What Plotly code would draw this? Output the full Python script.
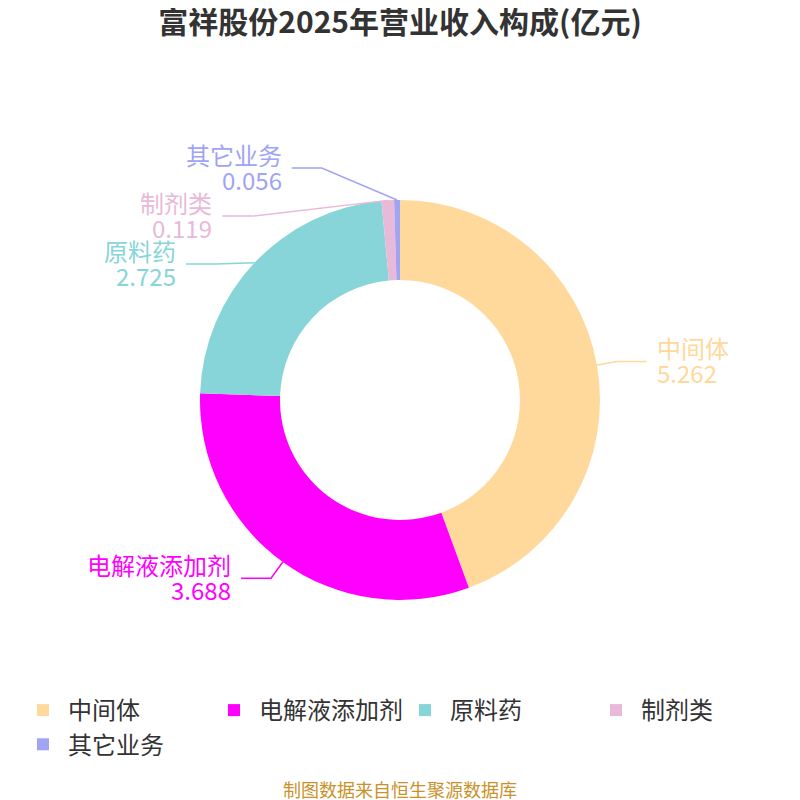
import math
import plotly.graph_objects as go

# 营业收入构成 (亿元)
labels = ["中间体", "电解液添加剂", "原料药", "制剂类", "其它业务"]
values = [5.262, 3.688, 2.725, 0.119, 0.056]
colors = ["#FFD99B", "#FF00FF", "#87D5D8", "#E8B9D8", "#A1A4F5"]

W = H = 800
OFF = 8                     # page margin of the html body
CX, CY, R = 400, 400, 200   # pie centre / radius in page px
L1, L2, GAP = 20, 30, 48    # label line lengths, min vertical gap between labels


def px(x):
    return (x - OFF) / W


def py(y):
    return 1 - (y - OFF) / H


fig = go.Figure(go.Pie(
    labels=labels,
    values=values,
    marker=dict(colors=colors, line=dict(width=0)),
    hole=0.6,
    sort=False,
    direction="clockwise",
    textinfo="none",
    domain=dict(x=[px(CX - R), px(CX + R)], y=[py(CY + R), py(CY - R)]),
))

# label layout, computed from the slice angles
total = sum(values)
items = []
acc = 0
for lab, v, c in zip(labels, values, colors):
    th = math.radians((acc + v / 2) / total * 360)
    acc += v
    s, co = math.sin(th), math.cos(th)
    side = 1 if s >= 0 else -1
    items.append(dict(
        label=lab, value=v, color=c, side=side,
        edge=(CX + R * s, CY - R * co),
        bend=[CX + (R + L1) * s, CY - (R + L1) * co],
        y=CY - (R + L1) * co,
    ))

for side in (1, -1):
    grp = sorted([it for it in items if it["side"] == side], key=lambda d: d["y"])
    # push overlapping labels down, then ease each cluster back up a little
    clusters = []
    for it in grp:
        y0 = it["y"]
        if clusters and y0 < clusters[-1][-1]["y"] + GAP:
            it["y"] = clusters[-1][-1]["y"] + GAP
            it["push"] = it["y"] - y0
            clusters[-1].append(it)
        else:
            it["push"] = 0
            clusters.append([it])
    for cl in clusters:
        if len(cl) < 2:
            continue
        up = max(it["push"] for it in cl) / 4
        for it in cl:
            it["y"] -= up
        rA = R + L1
        rB = max(rA, 1.07 * max(abs(it["y"] - CY) for it in cl))
        for it in cl:
            dy = it["y"] - CY
            dx = rA * math.sqrt(max(0.0, 1 - dy * dy / (rB * rB)))
            it["bend"] = [CX + side * dx, it["y"]]

shapes = []
annotations = []
for it in items:
    ex, ey = it["edge"]
    bx, by = it["bend"]
    tx = bx + it["side"] * L2
    shapes.append(dict(
        type="path", xref="paper", yref="paper",
        path="M %f %f L %f %f L %f %f" % (px(ex), py(ey), px(bx), py(by), px(tx), py(by)),
        line=dict(color=it["color"], width=1.5),
    ))
    for txt, dy in ((it["label"], -14), ("%.3f" % it["value"], 11)):
        annotations.append(dict(
            xref="paper", yref="paper",
            x=px(tx + it["side"] * 8), y=py(by + dy),
            xanchor="left" if it["side"] > 0 else "right",
            yanchor="middle",
            text=txt, showarrow=False,
            font=dict(size=24, color=it["color"]),
        ))

annotations.append(dict(
    xref="paper", yref="paper", x=px(400), y=py(789),
    xanchor="center", yanchor="middle",
    text="制图数据来自恒生聚源数据库", showarrow=False,
    font=dict(size=18, color="#C8922A"),
))

fig.update_layout(
    width=W, height=H,
    margin=dict(l=0, r=0, t=0, b=0),
    paper_bgcolor="white",
    font=dict(family="Noto Sans CJK SC, sans-serif", color="#333333"),
    title=dict(
        text="<b>富祥股份2025年营业收入构成(亿元)</b>",
        x=px(400), xanchor="center", y=py(22), yanchor="middle",
        font=dict(size=30, color="#333333"),
    ),
    legend=dict(
        orientation="h", x=px(400), xanchor="center",
        y=py(688), yanchor="top",
        font=dict(size=24, color="#333333"),
        itemwidth=40,
        entrywidth=136,
    ),
    shapes=shapes,
    annotations=annotations,
)

fig.write_html("out.html")
